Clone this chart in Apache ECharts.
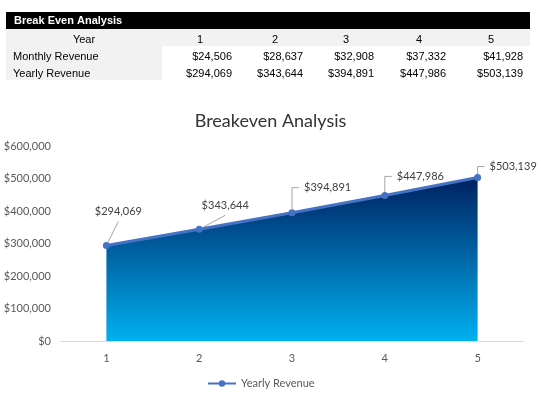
<!DOCTYPE html>
<html>
<head>
<meta charset="utf-8">
<script src="https://cdn.jsdelivr.net/npm/echarts@6/dist/echarts.min.js"></script>
<style>
  html, body { margin: 0; padding: 0; background: #fff; }
  #chart { width: 541px; height: 403px; }
</style>
</head>
<body>
<div id="chart"></div>
<script>
'use strict';

// data read from the sheet
var years = ['1', '2', '3', '4', '5'];
var monthlyRevenue = [24506, 28637, 32908, 37332, 41928];
var yearlyRevenue = [294069, 343644, 394891, 447986, 503139];
var tableTitle = 'Break Even Analysis';
var rowLabels = ['Year', 'Monthly Revenue', 'Yearly Revenue'];
var chartTitle = 'Breakeven Analysis';
var seriesName = 'Yearly Revenue';
var yMin = 0, yMax = 600000, yStep = 100000;

function money(v) {
    var s = String(Math.round(v));
    return '$' + s.replace(/\B(?=(\d{3})+(?!\d))/g, ',');
}

var chartFont = 'Lato';
var tableFont = '"Liberation Sans", Arial, sans-serif';

// table above the chart, drawn as graphic elements
var colRight = [232, 303, 374, 446, 523];
var colCenter = [200, 275, 346, 419, 491];
var rowMid = [40, 57, 74];

function txt(x, y, s, align, bold, color) {
    return {
        type: 'text', x: x, y: y, silent: true,
        style: {
            text: s, fill: color || '#000',
            font: (bold ? 'bold ' : '') + '11px ' + tableFont,
            align: align, textAlign: align,
            verticalAlign: 'middle', textVerticalAlign: 'middle'
        }
    };
}

var graphics = [
    { type: 'rect', shape: { x: 6, y: 12, width: 524, height: 17 }, style: { fill: '#000' } },
    { type: 'rect', shape: { x: 6, y: 29, width: 524, height: 17 }, style: { fill: '#f2f2f2' } },
    { type: 'rect', shape: { x: 6, y: 46, width: 156, height: 34 }, style: { fill: '#f2f2f2' } }
];
graphics.push(txt(14, 21, tableTitle, 'left', true, '#fff'));
graphics.push(txt(84, rowMid[0], rowLabels[0], 'center'));
graphics.push(txt(13, rowMid[1], rowLabels[1], 'left'));
graphics.push(txt(13, rowMid[2], rowLabels[2], 'left'));
for (var i = 0; i < years.length; i++) {
    graphics.push(txt(colCenter[i], rowMid[0], years[i], 'center'));
    graphics.push(txt(colRight[i], rowMid[1], money(monthlyRevenue[i]), 'right'));
    graphics.push(txt(colRight[i], rowMid[2], money(yearlyRevenue[i]), 'right'));
}

// where each data label sits relative to its point (Excel moved them by hand)
var labelShift = [
    { dx: 12, dy: -24, align: 'center', va: 'bottom' },
    { dx: 26, dy: -14, align: 'center', va: 'bottom' },
    { dx: 7, dy: -25, align: 'left', va: 'middle' },
    { dx: 7, dy: -19, align: 'left', va: 'middle' },
    { dx: 7, dy: -11, align: 'left', va: 'middle' }
];

var seriesData = yearlyRevenue.map(function (v, i) {
    var side = labelShift[i].align === 'left';
    return {
        value: v,
        label: { padding: side ? [0, 0, 0, 5] : [30, 2, 4, 2] },
        labelLine: { length2: side ? 7 : 0 }
    };
});

var chart = echarts.init(document.getElementById('chart'));
var option = {
    animation: false,
    backgroundColor: '#fff',
    graphic: graphics,
    title: {
        text: chartTitle,
        left: 'center',
        top: 107,
        textStyle: { fontFamily: chartFont, fontSize: 18, fontWeight: 'normal', color: '#333' }
    },
    grid: { left: 60, right: 17, top: 146, bottom: 62 },
    legend: {
        data: [seriesName],
        left: 202,
        top: 373,
        itemWidth: 28,
        itemHeight: 8,
        itemGap: 4,
        textStyle: { fontFamily: chartFont, fontSize: 11, color: '#595959' }
    },
    xAxis: {
        type: 'category',
        data: years,
        boundaryGap: true,
        axisLine: { lineStyle: { color: '#d9d9d9', width: 1 } },
        axisTick: { show: false },
        axisLabel: { margin: 12, color: '#595959', fontFamily: chartFont, fontSize: 11 }
    },
    yAxis: {
        type: 'value',
        min: yMin,
        max: yMax,
        interval: yStep,
        axisLine: { show: false },
        axisTick: { show: false },
        splitLine: { show: false },
        axisLabel: { margin: 9, color: '#595959', fontFamily: chartFont, fontSize: 11, formatter: money }
    },
    series: [{
        name: seriesName,
        type: 'line',
        data: seriesData,
        symbol: 'circle',
        symbolSize: 7,
        lineStyle: { color: '#4472c4', width: 3 },
        itemStyle: { color: '#4472c4' },
        areaStyle: {
            opacity: 1,
            color: new echarts.graphic.LinearGradient(0, 0, 0, 1, [
                { offset: 0, color: '#002060' },
                { offset: 1, color: '#00b0f0' }
            ])
        },
        label: {
            show: true,
            color: '#404040',
            fontFamily: chartFont,
            fontSize: 11,
            // transparent box so the padding counts when the leader line is placed
            backgroundColor: 'rgba(255,255,255,0)',
            formatter: function (p) { return money(p.value); }
        },
        labelLine: { show: true, lineStyle: { color: '#a6a6a6', width: 1 } },
        labelLayout: function (p) {
            var s = labelShift[p.dataIndex];
            var cx = p.rect.x + p.rect.width / 2;
            var cy = p.rect.y + p.rect.height / 2;
            return { x: cx + s.dx, y: cy + s.dy, align: s.align, verticalAlign: s.va };
        }
    }]
};
chart.setOption(option);
</script>
</body>
</html>
